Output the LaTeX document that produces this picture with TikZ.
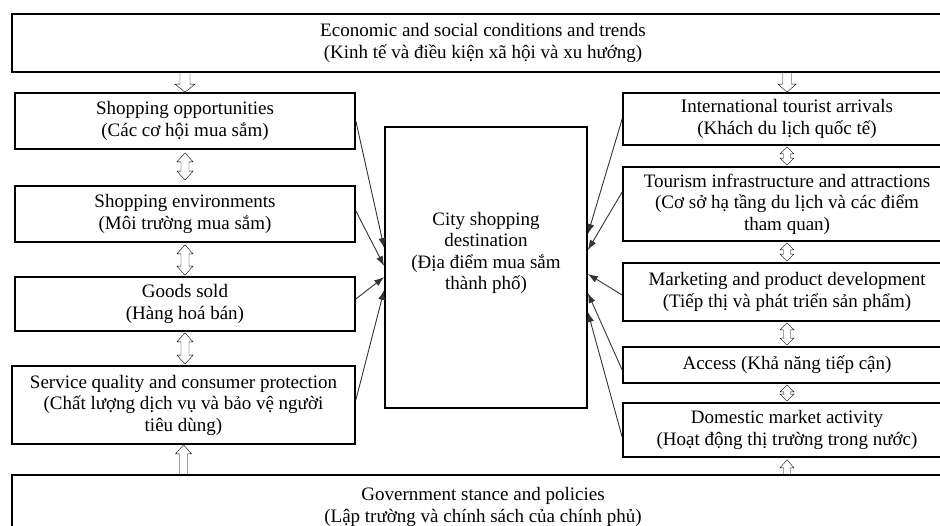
\documentclass[tikz,border=0pt]{standalone}
\usepackage{fontspec}
\setmainfont{Liberation Serif}
\usetikzlibrary{calc,arrows.meta}
\tikzset{
  box/.style={draw=black, line width=1.7pt, inner sep=0pt, align=center,
    font=\fontsize{19}{21.5}\selectfont},
  feed/.style={draw=black!80, line width=0.9pt, -{Latex[length=10pt,width=7pt]}},
  hollow/.style={draw=black, line width=1.4pt, line join=miter},
  updown/.style n args={3}{hollow, to path={let \p1=(\tikztostart), \p2=(\tikztotarget) in
    (\x1,\y1) -- (\x1+#1,\y1-#3) -- (\x1+#2,\y1-#3) -- (\x1+#2,\y2+#3) -- (\x1+#1,\y2+#3)
    -- (\x1,\y2) -- (\x1-#1,\y2+#3) -- (\x1-#2,\y2+#3) -- (\x1-#2,\y1-#3) -- (\x1-#1,\y1-#3) -- cycle}},
  downarr/.style n args={3}{hollow, to path={let \p1=(\tikztostart), \p2=(\tikztotarget) in
    (\x1-#2,\y1) -- (\x1-#2,\y2+#3) -- (\x1-#1,\y2+#3) -- (\x1,\y2) -- (\x1+#1,\y2+#3)
    -- (\x1+#2,\y2+#3) -- (\x1+#2,\y1)}},
  uparr/.style n args={3}{hollow, to path={let \p1=(\tikztostart), \p2=(\tikztotarget) in
    (\x1-#2,\y1) -- (\x1-#2,\y2-#3) -- (\x1-#1,\y2-#3) -- (\x1,\y2) -- (\x1+#1,\y2-#3)
    -- (\x1+#2,\y2-#3) -- (\x1+#2,\y1)}},
}
\begin{document}
\begin{tikzpicture}[x=1pt,y=-1pt]
\useasboundingbox (0,0) rectangle (940,525);
\clip (0,0) rectangle (940,525);
% top and bottom
\node[box, minimum width=942pt, minimum height=58pt] (top) at (483,43)
  {Economic and social conditions and trends\\(Kinh tế và điều kiện xã hội và xu hướng)};
\node[box, minimum width=942pt, minimum height=64pt] (gov) at (483,507)
  {Government stance and policies\\(Lập trường và chính sách của chính phủ)};
% left column
\node[box, minimum width=340pt, minimum height=56pt] (opp) at (185,121)
  {Shopping opportunities\\(Các cơ hội mua sắm)};
\node[box, minimum width=340pt, minimum height=56pt] (env) at (185,214)
  {Shopping environments\\(Môi trường mua sắm)};
\node[box, minimum width=340pt, minimum height=54pt] (goods) at (185,304)
  {Goods sold\\(Hàng hoá bán)};
\node[box, minimum width=343pt, minimum height=78pt] (serv) at (183.5,405)
  {Service quality and consumer protection\\(Chất lượng dịch vụ và bảo vệ người\\tiêu dùng)};
% centre
\node[box, minimum width=202pt, minimum height=281pt] (city) at (486,267.5)
  {City shopping\\destination\\(Địa điểm mua sắm\\thành phố)\\[12pt]};
% right column
\node[box, minimum width=328pt, minimum height=52pt] (intl) at (787,119)
  {International tourist arrivals\\(Khách du lịch quốc tế)};
\node[box, minimum width=328pt, minimum height=74pt] (tour) at (787,204)
  {Tourism infrastructure and attractions\\(Cơ sở hạ tầng du lịch và các điểm\\tham quan)};
\node[box, minimum width=328pt, minimum height=58pt] (mkt) at (787,292)
  {Marketing and product development\\(Tiếp thị và phát triển sản phẩm)};
\node[box, minimum width=328pt, minimum height=36pt] (acc) at (787,365)
  {Access (Khả năng tiếp cận)};
\node[box, minimum width=328pt, minimum height=54pt] (dom) at (787,430)
  {Domestic market activity\\(Hoạt động thị trường trong nước)};
% hollow arrows, left
\draw (top.south -| opp.north) to[downarr={10pt}{5pt}{8pt}] (opp.north);
\draw ([yshift=-3pt]opp.south) to[updown={8pt}{4pt}{9pt}] ([yshift=5pt]env.north);
\draw ([yshift=-2pt]env.south) to[updown={8pt}{4pt}{9pt}] ([yshift=1pt]env.south |- goods.north);
\draw ([yshift=-1pt]goods.south) to[updown={8pt}{4pt}{9pt}] ([yshift=1pt]goods.south |- serv.north);
\draw (gov.north -| serv.south) to[uparr={8pt}{4pt}{9pt}] (serv.south);
% hollow arrows, right
\draw (top.south -| intl.north) to[downarr={9pt}{4.5pt}{8pt}] (intl.north);
\draw ([yshift=-1pt]intl.south) to[updown={7pt}{3.5pt}{7pt}] ([yshift=1pt]tour.north);
\draw ([yshift=-1pt]tour.south) to[updown={7pt}{3.5pt}{7pt}] ([yshift=1pt]mkt.north);
\draw ([yshift=-1pt]mkt.south) to[updown={7pt}{3.5pt}{7pt}] ([yshift=1pt]acc.north);
\draw ([yshift=-1pt]acc.south) to[updown={7pt}{3.5pt}{7pt}] ([yshift=1pt]dom.north);
\draw (gov.north -| dom.south) to[uparr={7pt}{3.5pt}{8pt}] ([yshift=-2pt]dom.south);
% thin arrows into the centre
\draw[feed] (opp.east) -- ([yshift=19.5pt]city.west);
\draw[feed] ([yshift=3pt]env.east) -- ([yshift=1.5pt]city.west);
\draw[feed] ([yshift=5pt]goods.east) -- ([yshift=-9.5pt]city.west);
\draw[feed] ([yshift=5pt]serv.east) -- ([yshift=-22.5pt]city.west);
\draw[feed] (intl.west) -- ([yshift=33.5pt]city.east);
\draw[feed] ([yshift=12pt]tour.west) -- ([yshift=17.5pt]city.east);
\draw[feed] ([yshift=-3pt]mkt.west) -- ([yshift=-6.5pt]city.east);
\draw[feed] ([yshift=-5pt]acc.west) -- ([yshift=-25.5pt]city.east);
\draw[feed] ([yshift=-7pt]dom.west) -- ([yshift=-44.5pt]city.east);
\end{tikzpicture}
\end{document}
